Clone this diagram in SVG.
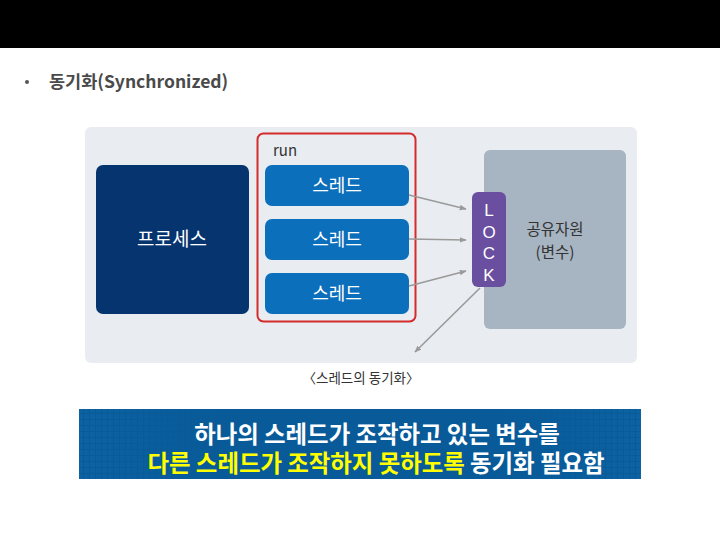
<svg xmlns="http://www.w3.org/2000/svg" width="720" height="540" viewBox="0 0 720 540">
<style>
text{font-family:"Noto Sans CJK KR","Noto Sans",sans-serif}
.w{fill:#ffffff}
.thr{fill:#0b6fbb}
.t18{font-size:18px;text-anchor:middle}
.conn{stroke:#9a9a9a;stroke-width:1.6;fill:none;marker-end:url(#ah)}
</style>
<defs>
<marker id="ah" viewBox="0 0 10 10" refX="9" refY="5" markerWidth="7" markerHeight="7" orient="auto" markerUnits="userSpaceOnUse">
<path d="M0,1 L10,5 L0,9 Z" fill="#9a9a9a"/>
</marker>
<pattern id="grid" width="6" height="6" patternUnits="userSpaceOnUse">
<rect width="6" height="6" fill="#085a98"/>
<rect x="0" y="0" width="5" height="5" fill="#0d62a2"/>
</pattern>
<linearGradient id="fade" x1="0" y1="0" x2="1" y2="0">
<stop offset="0" stop-color="#085a98" stop-opacity="0"/>
<stop offset="0.25" stop-color="#085a98" stop-opacity="1"/>
<stop offset="0.75" stop-color="#085a98" stop-opacity="1"/>
<stop offset="1" stop-color="#085a98" stop-opacity="0"/>
</linearGradient>
</defs>
<rect width="720" height="540" fill="#ffffff"/>
<rect x="0" y="0" width="720" height="48" fill="#000000"/>
<g id="title">
<circle cx="27" cy="82" r="2" fill="#555"/>
<text x="49" y="88" font-size="17.5" font-weight="bold" fill="#4a4a4a">동기화(Synchronized)</text>
</g>
<g id="panel">
<rect x="85" y="127" width="552" height="236" rx="6" fill="#e9ecf1"/>
</g>
<g id="process">
<rect x="96" y="165" width="153" height="149" rx="7" fill="#06346f"/>
<text class="w" x="172" y="246" font-size="19" text-anchor="middle">프로세스</text>
</g>
<g id="run">
<rect x="257.5" y="133.5" width="158" height="188" rx="6" fill="none" stroke="#d42c2c" stroke-width="2"/>
<text x="273" y="156" font-size="15" fill="#333">run</text>
</g>
<g id="thread1">
<rect class="thr" x="265" y="165" width="144" height="41" rx="7"/>
<text class="w t18" x="337" y="192">스레드</text>
</g>
<g id="thread2">
<rect class="thr" x="265" y="219" width="144" height="41" rx="7"/>
<text class="w t18" x="337" y="246">스레드</text>
</g>
<g id="thread3">
<rect class="thr" x="265" y="273" width="144" height="41" rx="7"/>
<text class="w t18" x="337" y="300">스레드</text>
</g>
<g id="resource">
<rect x="484" y="150" width="142" height="179" rx="6" fill="#a7b4c1"/>
<text font-size="15.5" fill="#333" text-anchor="middle"><tspan x="555" y="235">공유자원</tspan><tspan x="555" y="258">(변수)</tspan></text>
</g>
<g id="lock">
<rect x="472" y="192" width="34" height="95" rx="6" fill="#6a4fa0"/>
<text class="w" font-size="17" text-anchor="middle" style="font-family:'Liberation Sans',sans-serif"><tspan x="489" y="216">L</tspan><tspan x="489" y="238">O</tspan><tspan x="489" y="259">C</tspan><tspan x="489" y="281">K</tspan></text>
</g>
<g id="connectors">
<line class="conn" x1="409" y1="195" x2="466" y2="209"/>
<line class="conn" x1="409" y1="239" x2="466" y2="240"/>
<line class="conn" x1="409" y1="286" x2="466" y2="271"/>
<line class="conn" x1="480" y1="288" x2="415" y2="352"/>
</g>
<g id="caption">
<text x="361" y="383" font-size="13.5" fill="#333" text-anchor="middle">〈스레드의 동기화〉</text>
</g>
<g id="banner">
<rect x="79" y="409" width="562" height="70" fill="url(#grid)"/>
<rect x="79" y="409" width="562" height="70" fill="url(#fade)"/>
<text font-size="23.4" font-weight="bold" text-anchor="middle"><tspan x="377" y="443" fill="#ffffff">하나의 스레드가 조작하고 있는 변수를</tspan><tspan x="376" y="472" fill="#ffff00">다른 스레드가 조작하지 못하도록</tspan><tspan fill="#ffffff"> 동기화 필요함</tspan></text>
</g>
</svg>
